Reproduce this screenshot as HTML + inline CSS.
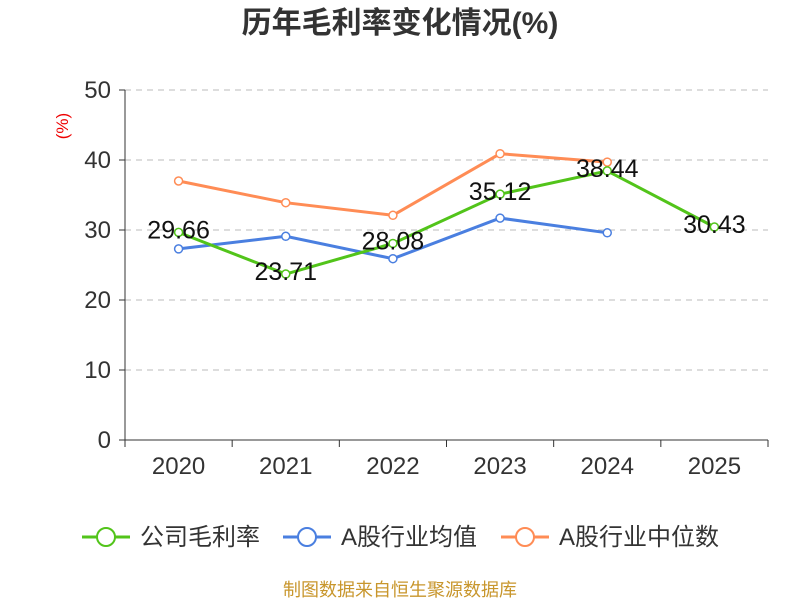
<!DOCTYPE html>
<html><head><meta charset="utf-8">
<style>
body{margin:0;background:#fff;}
svg text{font-family:"Liberation Sans","Noto Sans CJK SC",sans-serif;}
</style></head>
<body>
<svg id="chart" width="800" height="600" xmlns="http://www.w3.org/2000/svg">
<text x="400" y="33" text-anchor="middle" font-size="30" font-weight="bold" fill="#333">历年毛利率变化情况(%)</text>
<text x="68" y="126" fill="#e00" font-size="17" text-anchor="middle" transform="rotate(-90 68 126)">(%)</text>
<g id="grid"></g><g id="axes"></g><g id="series"></g>
<g font-size="24" fill="#333">
<g><line x1="82" y1="537" x2="130" y2="537" stroke="#52c41a" stroke-width="3"/><circle cx="106" cy="537" r="9" fill="#fff" stroke="#52c41a" stroke-width="2"/><text x="140" y="545">公司毛利率</text></g>
<g><line x1="283" y1="537" x2="331" y2="537" stroke="#4a7fe0" stroke-width="3"/><circle cx="307" cy="537" r="9" fill="#fff" stroke="#4a7fe0" stroke-width="2"/><text x="341" y="545">A股行业均值</text></g>
<g><line x1="501" y1="537" x2="549" y2="537" stroke="#ff8c55" stroke-width="3"/><circle cx="525" cy="537" r="9" fill="#fff" stroke="#ff8c55" stroke-width="2"/><text x="559" y="545">A股行业中位数</text></g>
</g>
<text x="400" y="596" text-anchor="middle" font-size="18" fill="#c8962c">制图数据来自恒生聚源数据库</text>
</svg>
<script>
const categories=["2020","2021","2022","2023","2024","2025"];
const companyValues=[29.66,23.71,28.08,35.12,38.44,30.43];
const industryAvg=[27.3,29.1,25.9,31.7,29.6,null];
const industryMedian=[37.0,33.9,32.1,40.9,39.7,null];
const yTicks=[0,10,20,30,40,50];
const NS="http://www.w3.org/2000/svg";
const x0=125,x1=768,yBase=440,yTop=90,yMax=50;
const bw=(x1-x0)/categories.length;
const xs=i=>x0+bw*(i+0.5);
const ys=v=>yBase-(v/yMax)*(yBase-yTop);
function mk(tag,attrs,parent){const e=document.createElementNS(NS,tag);for(const k in attrs)e.setAttribute(k,attrs[k]);parent.appendChild(e);return e;}
const grid=document.getElementById('grid'),axes=document.getElementById('axes'),ser=document.getElementById('series');
yTicks.forEach(t=>{
  if(t>0){const g=mk('line',{x1:x0,x2:x1,y1:ys(t),y2:ys(t),stroke:'#bbb','stroke-dasharray':'6,5'},grid);
  
  }
  const tk=mk('line',{x1:x0-6,x2:x0,y1:ys(t),y2:ys(t),stroke:'#333'},axes);
  
  
  const tx=mk('text',{x:x0-14,y:ys(t)+8,'text-anchor':'end','font-size':24,fill:'#333'},axes);tx.textContent=t;
  
  
});
const ya=mk('line',{x1:x0,x2:x0,y1:yTop,y2:yBase,stroke:'#333'},axes);


const xa=mk('line',{x1:x0,x2:x1,y1:yBase,y2:yBase,stroke:'#333'},axes);


for(let i=0;i<=categories.length;i++){const tk=mk('line',{x1:x0+bw*i,x2:x0+bw*i,y1:yBase,y2:yBase+7,stroke:'#333'},axes);

}
categories.forEach((c,i)=>{const t=mk('text',{x:xs(i),y:yBase+34,'text-anchor':'middle','font-size':24,fill:'#333'},axes);t.textContent=c;

});
function drawSeries(vals,color,name,labels){
  const pts=vals.map((v,i)=>v==null?null:[xs(i),ys(v)]).filter(p=>p);
  const pl=mk('polyline',{points:pts.map(p=>p.join(',')).join(' '),fill:'none',stroke:color,'stroke-width':3},ser);
  
  
  vals.forEach((v,i)=>{if(v==null)return;
    const c=mk('circle',{cx:xs(i),cy:ys(v),r:4,fill:'#fff',stroke:color,'stroke-width':1.5},ser);
    
    
  });
  if(labels){vals.forEach((v,i)=>{if(v==null)return;
    const t=mk('text',{x:xs(i),y:ys(v)+6,'text-anchor':'middle','font-size':25,fill:'#111'},ser);t.textContent=v.toFixed(2);
    
    
  });}
}
drawSeries(industryAvg,'#4a7fe0','industry-avg',false);
drawSeries(industryMedian,'#ff8c55','industry-median',false);
drawSeries(companyValues,'#52c41a','company',true);
</script>
</body></html>
